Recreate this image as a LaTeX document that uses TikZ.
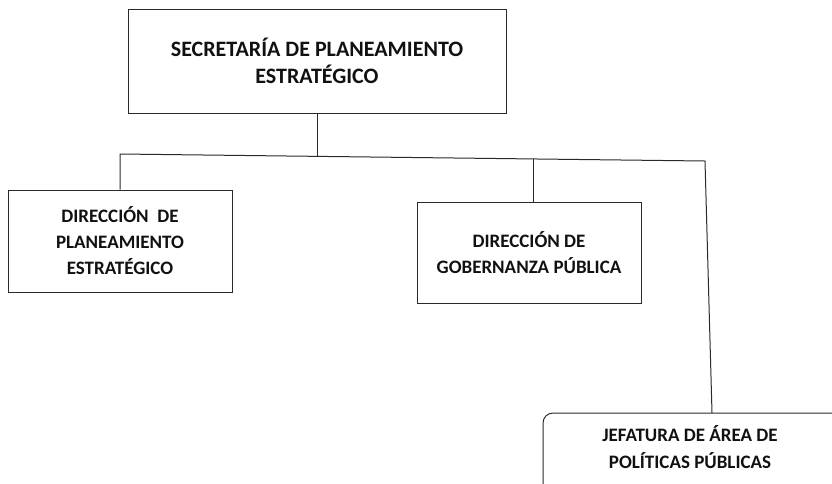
\documentclass[tikz,border=0pt]{standalone}
\usepackage{fontspec}
\setmainfont{Carlito}
\definecolor{linec}{HTML}{2A2A2A}
\definecolor{textc}{HTML}{111111}
\begin{document}
\begin{tikzpicture}[x=1pt,y=-1pt,
  box/.style={draw=linec, line width=1pt, inner sep=0pt, align=center, text=textc,
    font=\bfseries\fontsize{19}{26}\selectfont},
  bigbox/.style={box, font=\bfseries\fontsize{22}{27}\selectfont},
  label/.style={inner sep=0pt, align=center, text=textc, font=\bfseries\fontsize{19}{27}\selectfont},
  conn/.style={draw=linec, line width=1pt}]
\useasboundingbox (0,0) rectangle (832,483);
\begin{scope}
\clip (0,0) rectangle (832,483);
\node[bigbox, minimum width=378pt, minimum height=104pt] (sec) at (317,61) {SECRETARÍA DE PLANEAMIENTO\\ESTRATÉGICO};
\node[box, minimum width=224pt, minimum height=102pt] (dpe) at (120,241) {DIRECCIÓN\ \ DE\\PLANEAMIENTO\\ESTRATÉGICO};
\node[box, minimum width=224pt, minimum height=101pt] (dgp) at (529,252.5) {DIRECCIÓN DE\\GOBERNANZA PÚBLICA};
\node[box, rounded corners=10pt, minimum width=357pt, minimum height=107pt] (jef) at (721.5,466.5) {};
\node[label] (jeft) at (690,447) {JEFATURA DE ÁREA DE\\POLÍTICAS PÚBLICAS};
\coordinate (b1) at (120,154);
\coordinate (b2) at (317,155.5);
\coordinate (b3) at (533,158.5);
\coordinate (b4) at (705,161);
\coordinate (bj) at (712,413);
\draw[conn] (sec.south) -- (b2);
\draw[conn] (dpe.north) -- (b1) -- (b4) -- (bj);
\draw[conn] (b3) -- (b3 |- dgp.north);
\end{scope}
\end{tikzpicture}
\end{document}
